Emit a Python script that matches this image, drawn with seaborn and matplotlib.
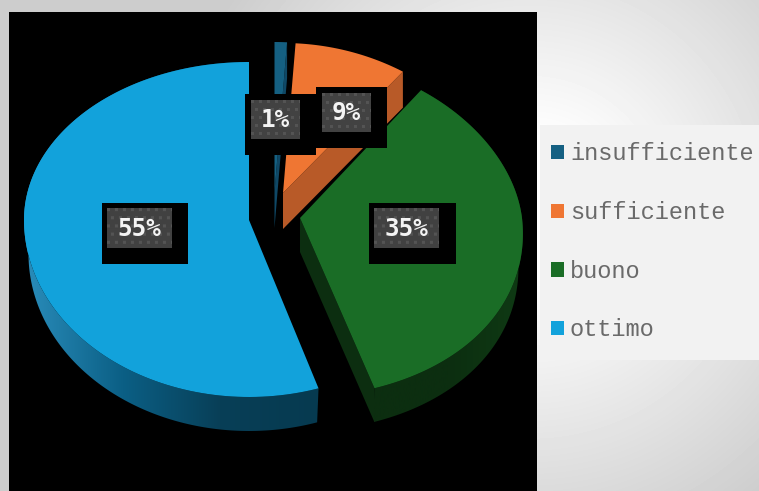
import numpy as np
import matplotlib
matplotlib.use("Agg")
import matplotlib.pyplot as plt
import seaborn as sns
from matplotlib.colors import LinearSegmentedColormap
from matplotlib.patches import Polygon, Rectangle
from matplotlib.path import Path
from matplotlib.transforms import Affine2D, Transform

# ---- data ----
categories = ["insufficiente", "sufficiente", "buono", "ottimo"]
values = [1, 9, 35, 55]
value_labels = ["1%", "9%", "35%", "55%"]

# ---- style and layout ----
top_colors = ["#156082", "#EF7633", "#1A6D26", "#12A2DB"]
cut_colors = ["#0F4866", "#B85A28", "#0C2E10", None]
# apex x, apex y, x radius, upper y radius, lower y radius, x perspective
geometry = [
    (274.5, 192, 220, 150, 170, 0.09),
    (283, 193, 220, 150, 170, 0.09),
    (300, 218, 222, 158, 179, 0.09),
    (249, 220, 225, 158, 177, 0.0),
]
depths = [36, 36, 34, 34]
# black box, grey box, text centre
label_boxes = [
    ((245, 94, 71, 61), (251, 100, 49, 39), (275.5, 119.5)),
    ((316, 87, 71, 61), (322, 93, 49, 39), (346.5, 112.5)),
    ((369, 203, 87, 61), (374, 209, 65, 39), (406.5, 228.5)),
    ((102, 203, 86, 61), (107, 209, 65, 39), (139.5, 228.5)),
]

sns.set_theme(style="white")
plt.rcParams["font.family"] = ["Liberation Mono", "DejaVu Sans Mono"]
palette = sns.color_palette(top_colors)

W, H = 759, 491
fig = plt.figure(figsize=(W / 100, H / 100), dpi=100)
ax = fig.add_axes([0, 0, 1, 1])


class Tilt(Transform):
    """Lays a unit pie slice down as a tilted disc, in pixel coordinates."""
    input_dims = 2
    output_dims = 2
    is_separable = False
    has_inverse = False

    def __init__(self, cx, cy, rx, ru, rd, k):
        super().__init__()
        self.p = (cx, cy, rx, ru, rd, k)

    def transform_non_affine(self, values):
        cx, cy, rx, ru, rd, k = self.p
        v = np.asarray(values, dtype=float)
        x, y = v[:, 0], v[:, 1]
        return np.column_stack([cx + x * rx * (1 - k * y),
                                cy - np.where(y > 0, y * ru, y * rd)])

    def transform_path_non_affine(self, path):
        big = path.transformed(Affine2D().scale(2000))
        poly = big.to_polygons(closed_only=False)[0] / 2000
        return Path(self.transform_non_affine(poly))


# background
yy, xx = np.mgrid[0:H, 0:W]
radius = np.hypot(xx - 530, yy - 210)
shade = np.clip(255 - (radius - 70) * 0.17, 205, 255) / 255
ax.imshow(shade, cmap="gray", vmin=0, vmax=1, extent=(0, W, H, 0),
          aspect="auto", zorder=-3)
ax.add_patch(Rectangle((9, 12), 528, 479, fc="black", ec="none", zorder=-2))

# slices
wedges, _ = ax.pie(values, colors=palette, startangle=90, counterclock=False,
                   wedgeprops=dict(linewidth=0))

wall_stops = {
    2: ["#0F3A14", "#0C2E10", "#0C2E10"],
    3: ["#2A8DBB", "#0B5F85", "#083F57", "#063A50"],
}


def unit(deg):
    a = np.radians(deg)
    return np.column_stack([np.cos(a), np.sin(a)])


for i, w in enumerate(wedges):
    tilt = Tilt(*geometry[i])
    w.set_transform(tilt + ax.transData)
    w.set_zorder(3)
    d = np.array([0, depths[i]])
    if cut_colors[i] is not None:
        apex = tilt.transform_non_affine(np.zeros((1, 2)))
        rim = tilt.transform_non_affine(unit(np.array([w.theta1])))
        ax.add_patch(Polygon(np.vstack([apex, rim, rim + d, apex + d]),
                             fc=cut_colors[i], ec="none", zorder=1))
    if i in wall_stops:
        arc = tilt.transform_non_affine(unit(np.linspace(w.theta1, w.theta2, 300)))
        lower = arc + d
        lower[:, 0] = geometry[i][0] + (lower[:, 0] - geometry[i][0]) * 0.98
        wall = Polygon(np.vstack([arc, lower[::-1]]), fc="none", ec="none", zorder=2)
        ax.add_patch(wall)
        cmap = LinearSegmentedColormap.from_list("wall", wall_stops[i])
        ramp = np.linspace(0, 1, 256)[None, :]
        if i == 2:
            ramp = ramp[:, ::-1]
        im = ax.imshow(ramp, cmap=cmap, extent=(arc[:, 0].min(), arc[:, 0].max(), H, 0),
                       aspect="auto", zorder=2)
        im.set_clip_path(wall)

# value labels
for text, (outer, inner, centre) in zip(value_labels, label_boxes):
    ax.add_patch(Rectangle(outer[:2], outer[2], outer[3], fc="black", ec="none", zorder=5))
    gy, gx = np.mgrid[0:inner[3], 0:inner[2]]
    dots = ((gx % 8 < 3) & (gy % 16 < 3)) | (((gx + 4) % 8 < 3) & ((gy + 8) % 16 < 3))
    tex = np.where(dots, 0.33, 0.26)
    ax.imshow(tex, cmap="gray", vmin=0, vmax=1, aspect="auto", zorder=6,
              extent=(inner[0], inner[0] + inner[2], inner[1] + inner[3], inner[1]),
              interpolation="bilinear")
    ax.text(*centre, text, color="#F4F4F4", fontsize=17.5, fontweight="bold",
            family="DejaVu Sans Mono", ha="center", va="center", zorder=7)

# legend
ax.add_patch(Rectangle((540, 125), 219, 235, fc="#F2F2F2", ec="none", zorder=4))
leg = ax.legend(wedges, categories, loc="upper left", bbox_to_anchor=(551, 142.5),
                bbox_transform=ax.transData, frameon=False, borderpad=0, borderaxespad=0,
                prop=dict(family="Liberation Mono", size=17), labelcolor="#6A6A6A",
                handlelength=0.55, handleheight=0.55, handletextpad=0.25,
                labelspacing=1.51)
leg.set_zorder(8)

ax.set_aspect("auto")
ax.set_xlim(0, W)
ax.set_ylim(H, 0)
ax.axis("off")
fig.savefig("out.png", dpi=100)
